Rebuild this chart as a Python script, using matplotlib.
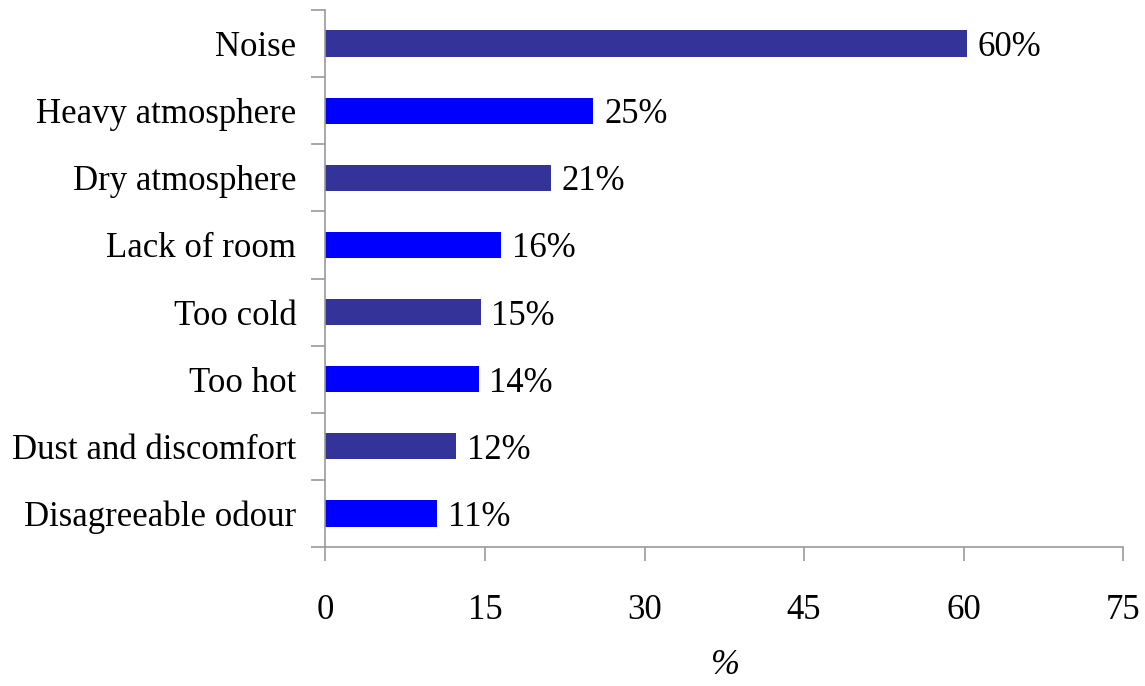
import matplotlib.pyplot as plt

categories = ['Noise', 'Heavy atmosphere', 'Dry atmosphere', 'Lack of room',
              'Too cold', 'Too hot', 'Dust and discomfort', 'Disagreeable odour']
values = [60.3, 25.2, 21.2, 16.5, 14.6, 14.4, 12.3, 10.5]
bar_labels = ['60%', '25%', '21%', '16%', '15%', '14%', '12%', '11%']
xticks = [0, 15, 30, 45, 60, 75]

plt.rcParams['font.family'] = ['Liberation Serif', 'DejaVu Serif']
plt.rcParams['font.size'] = 25

fig = plt.figure(figsize=(11.45, 6.86), dpi=100)
ax = fig.add_axes([325.5 / 1145, 1 - 547 / 686, (1123 - 325.5) / 1145, (547 - 10) / 686])

colors = ['#333399' if i % 2 == 0 else '#0000FF' for i in range(len(values))]
ypos = list(range(len(values)))[::-1]
ax.barh(ypos, values, height=0.39, color=colors)

for y, v, lab in zip(ypos, values, bar_labels):
    ax.text(v + 1.0, y, lab, va='center_baseline', ha='left', fontsize=25)

ax.set_xlim(0, 75)
ax.set_ylim(-0.5, len(values) - 0.5)
ax.set_xticks(xticks)
ax.set_xticklabels([str(t) for t in xticks])
ax.set_yticks(ypos)
ax.set_yticklabels(categories, va='center_baseline')
ax.set_yticks([i - 0.5 for i in range(len(values) + 1)], minor=True)

for s in ['top', 'right']:
    ax.spines[s].set_visible(False)
for s in ['left', 'bottom']:
    ax.spines[s].set_color('#999999')
    ax.spines[s].set_linewidth(1.2)

ax.tick_params(axis='y', which='major', length=0, pad=21)
ax.tick_params(axis='y', which='minor', length=10, color='#999999', width=1.2)
ax.tick_params(axis='x', length=10, color='#999999', width=1.2, pad=24)

ax.set_xlabel('%', style='italic', labelpad=16)

fig.savefig('out.png', dpi=100)
